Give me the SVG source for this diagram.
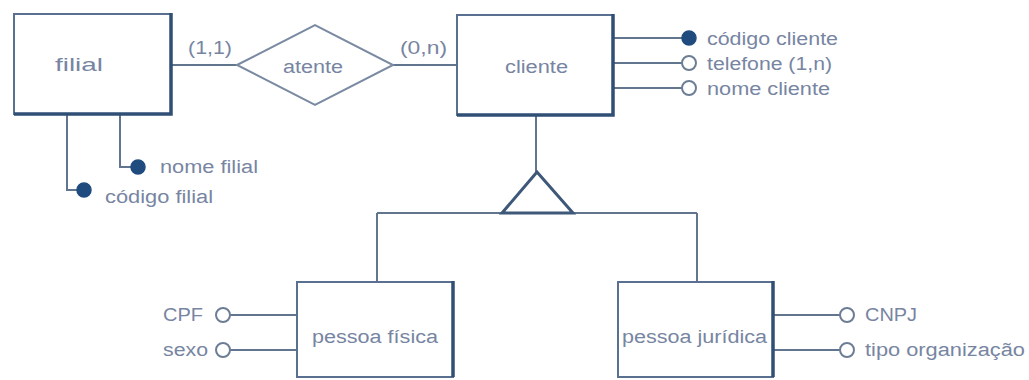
<svg xmlns="http://www.w3.org/2000/svg" width="1029" height="380" viewBox="0 0 1029 380">
<style>
.bg{fill:#ffffff}
.box{fill:#ffffff;stroke:#5a7090;stroke-width:2}
.shadow{fill:none;stroke:#2f4f75;stroke-width:3.5}
.ln{fill:none;stroke:#62758f;stroke-width:2}
.tri{fill:#ffffff;stroke:#3d5878;stroke-width:3}
.dia{fill:#ffffff;stroke:#7a8aa2;stroke-width:2}
.key{fill:#1f4b7e;stroke:#1f4b7e;stroke-width:1.5}
.att{fill:#ffffff;stroke:#6d7d95;stroke-width:2}
text{font-family:"Liberation Sans",Arial,sans-serif;font-size:18px;fill:#7785a2}
</style>
<rect class="bg" x="0" y="0" width="1029" height="380"/>
<g id="connectors">
<line class="ln" x1="172" y1="65" x2="237" y2="65"/>
<line class="ln" x1="393" y1="65" x2="457" y2="65"/>
<line class="ln" x1="536" y1="116" x2="536" y2="172"/>
<line class="ln" x1="377" y1="213" x2="697" y2="213"/>
<line class="ln" x1="377" y1="213" x2="377" y2="282"/>
<line class="ln" x1="697" y1="213" x2="697" y2="282"/>
<polyline class="ln" points="120,115 120,167 137,167"/>
<polyline class="ln" points="67,115 67,190 83,190"/>
<line class="ln" x1="614" y1="38" x2="688" y2="38"/>
<line class="ln" x1="614" y1="63" x2="688" y2="63"/>
<line class="ln" x1="614" y1="88" x2="688" y2="88"/>
<line class="ln" x1="223" y1="315" x2="297" y2="315"/>
<line class="ln" x1="223" y1="350" x2="297" y2="350"/>
<line class="ln" x1="774" y1="315" x2="847" y2="315"/>
<line class="ln" x1="774" y1="350" x2="847" y2="350"/>
<text x="188" y="54" textLength="44" lengthAdjust="spacingAndGlyphs">(1,1)</text>
<text x="400" y="54" textLength="47" lengthAdjust="spacingAndGlyphs">(0,n)</text>
</g>
<g id="filial">
<rect class="box" x="14" y="14" width="157" height="100"/>
<polyline class="shadow" points="171,13 171,114 14,114"/>
<text x="55" y="71" textLength="48" lengthAdjust="spacingAndGlyphs">filial</text>
</g>
<g id="atente">
<polygon class="dia" points="237,65 315,25 393,65 315,105"/>
<text x="283" y="73" textLength="60" lengthAdjust="spacingAndGlyphs">atente</text>
</g>
<g id="cliente">
<rect class="box" x="457" y="15" width="156" height="100"/>
<polyline class="shadow" points="613,14 613,115 457,115"/>
<text x="505" y="73" textLength="63" lengthAdjust="spacingAndGlyphs">cliente</text>
</g>
<g id="especializacao">
<polygon class="tri" points="537,172 502,213 573,213"/>
</g>
<g id="pessoa-fisica">
<rect class="box" x="297" y="282" width="156" height="95"/>
<polyline class="shadow" points="453,281 453,377"/>
<text x="312" y="343" textLength="126" lengthAdjust="spacingAndGlyphs">pessoa física</text>
</g>
<g id="pessoa-juridica">
<rect class="box" x="618" y="282" width="155" height="95"/>
<polyline class="shadow" points="773,281 773,377"/>
<text x="622" y="343" textLength="145" lengthAdjust="spacingAndGlyphs">pessoa jurídica</text>
</g>
<g id="attr-nome-filial">
<circle class="key" cx="138" cy="167" r="7"/>
<text x="160" y="173" textLength="98" lengthAdjust="spacingAndGlyphs">nome filial</text>
</g>
<g id="attr-codigo-filial">
<circle class="key" cx="84" cy="190" r="7"/>
<text x="105" y="203" textLength="108" lengthAdjust="spacingAndGlyphs">código filial</text>
</g>
<g id="attr-codigo-cliente">
<circle class="key" cx="689" cy="38" r="7"/>
<text x="707" y="45" textLength="131" lengthAdjust="spacingAndGlyphs">código cliente</text>
</g>
<g id="attr-telefone">
<circle class="att" cx="689" cy="63" r="7"/>
<text x="707" y="70" textLength="125" lengthAdjust="spacingAndGlyphs">telefone (1,n)</text>
</g>
<g id="attr-nome-cliente">
<circle class="att" cx="689" cy="88" r="7"/>
<text x="707" y="95" textLength="123" lengthAdjust="spacingAndGlyphs">nome cliente</text>
</g>
<g id="attr-cpf">
<circle class="att" cx="223" cy="315" r="7"/>
<text x="163" y="321" textLength="40" lengthAdjust="spacingAndGlyphs">CPF</text>
</g>
<g id="attr-sexo">
<circle class="att" cx="223" cy="350" r="7"/>
<text x="163" y="356" textLength="45" lengthAdjust="spacingAndGlyphs">sexo</text>
</g>
<g id="attr-cnpj">
<circle class="att" cx="847" cy="315" r="7"/>
<text x="865" y="321" textLength="52" lengthAdjust="spacingAndGlyphs">CNPJ</text>
</g>
<g id="attr-tipo">
<circle class="att" cx="847" cy="350" r="7"/>
<text x="865" y="356" textLength="160" lengthAdjust="spacingAndGlyphs">tipo organização</text>
</g>
</svg>
